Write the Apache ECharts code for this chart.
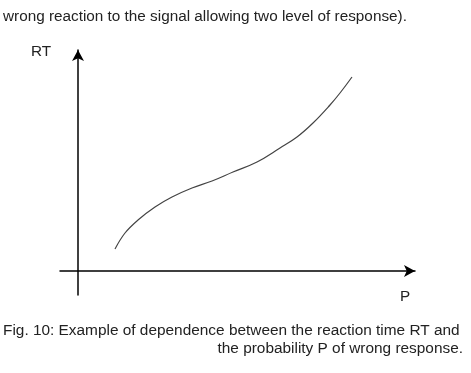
<!DOCTYPE html>
<html>
<head>
<meta charset="utf-8">
<script src="https://cdn.jsdelivr.net/npm/echarts@6/dist/echarts.min.js"></script>
<style>
html,body{margin:0;padding:0;background:#fff;}
#c{width:471px;height:373px;}
</style>
</head>
<body>
<div id="c"></div>
<script>
// Curve values (P, RT) in arbitrary units
const pValues  = [37, 47, 60, 77, 94, 114, 134, 155, 179, 202, 219, 235, 252, 262, 274];
const rtValues = [22, 38, 51, 64, 74, 83, 90, 99, 109, 123, 134, 148, 166, 178, 194];
const headerText = 'wrong reaction to the signal allowing two level of response).';
const captionLine1 = 'Fig. 10: Example of dependence between the reaction time RT and';
const captionLine2 = 'the probability P of wrong response.';
const yAxisLabel = 'RT';
const xAxisLabel = 'P';

const chart = echarts.init(document.getElementById('c'), null, {renderer: 'canvas'});
const font = '"Liberation Sans", Arial, sans-serif';
const textColor = '#222';

chart.setOption({
  animation: false,
  backgroundColor: '#fff',
  grid: {left: 60, right: 56, top: 50, bottom: 78, containLabel: false},
  xAxis: {
    type: 'value', min: -18, max: 337,
    axisLine: {show: true, onZero: true, symbol: ['none', 'arrow'], symbolSize: [9, 11],
      lineStyle: {color: '#000', width: 1.5}},
    axisTick: {show: false}, axisLabel: {show: false}, splitLine: {show: false}
  },
  yAxis: {
    type: 'value', min: -24, max: 221,
    axisLine: {show: true, onZero: true, symbol: ['none', 'arrow'], symbolSize: [9, 11],
      lineStyle: {color: '#000', width: 1.5}},
    axisTick: {show: false}, axisLabel: {show: false}, splitLine: {show: false}
  },
  series: [{
    type: 'line',
    data: pValues.map((p, i) => [p, rtValues[i]]),
    smooth: 0.4,
    showSymbol: false,
    lineStyle: {color: '#444', width: 1.2}
  }],
  graphic: [
    {type: 'text', left: 3, top: 9, style: {text: headerText, font: '15.3px ' + font, fill: textColor}},
    {type: 'text', left: 31, top: 44, style: {text: yAxisLabel, font: '15.3px ' + font, fill: textColor}},
    {type: 'text', left: 400, top: 289, style: {text: xAxisLabel, font: '15.3px ' + font, fill: textColor}},
    {type: 'text', left: 3, top: 323, style: {text: captionLine1, font: '15.4px ' + font, fill: textColor}},
    {type: 'text', right: 8, top: 341, style: {text: captionLine2, font: '15.4px ' + font, fill: textColor}}
  ]
});
</script>
</body>
</html>
